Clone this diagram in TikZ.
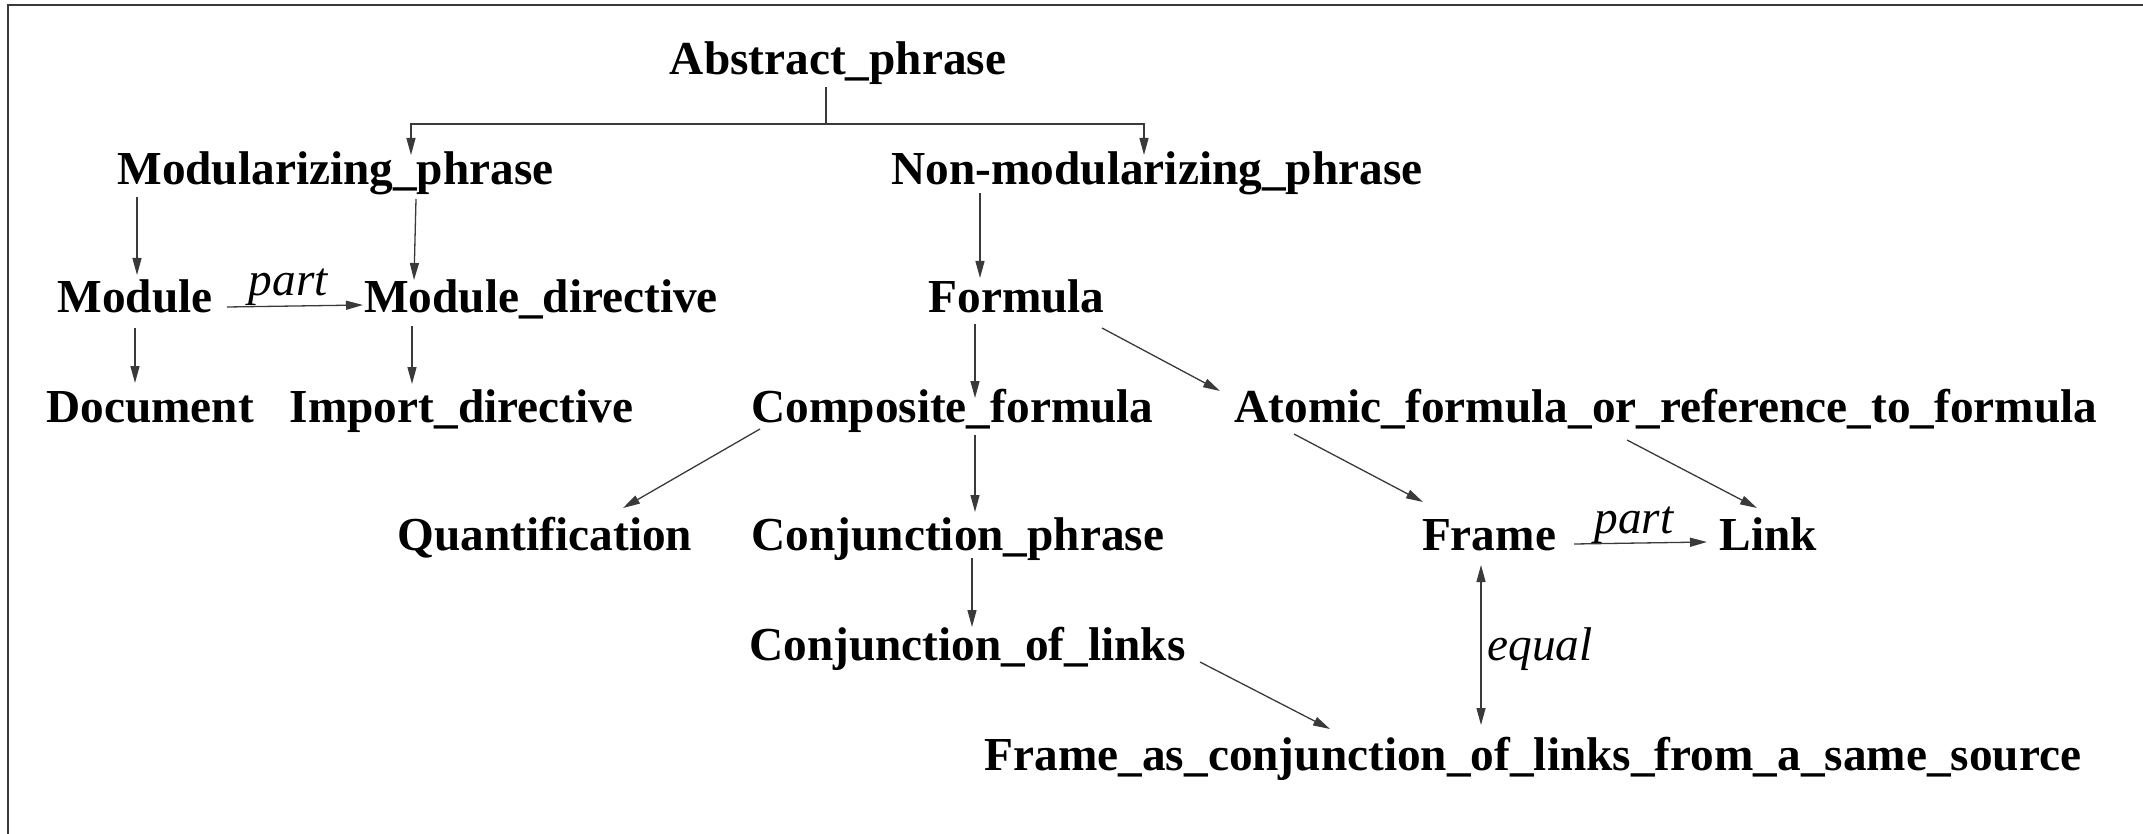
\documentclass[tikz,border=0pt]{standalone}
\usepackage{fontspec}
\setmainfont{Liberation Serif}
\usetikzlibrary{arrows.meta}
\definecolor{linegray}{HTML}{3A3A3A}
\begin{document}
\begin{tikzpicture}[x=1pt,y=-1pt,
  term/.style={anchor=base, inner sep=0pt, font=\fontsize{47.3}{56}\selectfont\bfseries},
  rel/.style={inner sep=0pt, font=\fontsize{47.3}{56}\selectfont\itshape},
  conn/.style={draw=linegray, line width=1.3pt},
  arr/.style={conn, -{Triangle[length=17pt,width=9pt]}},
  darr/.style={conn, {Triangle[length=17pt,width=9pt]}-{Triangle[length=17pt,width=9pt]}}]
\useasboundingbox (0,0) rectangle (2143,834);
\draw[draw=linegray, line width=1.8pt] (8,834) -- (8,5) -- (2143,5);

\node[term] (abs)    at (838,75)    {Abstract\_phrase};
\node[term] (modp)   at (335.5,185) {Modularizing\_phrase};
\node[term] (nonmod) at (1157,185)  {Non-modularizing\_phrase};
\node[term] (mod)    at (135,312)   {Module};
\node[term] (mdir)   at (541,312)   {Module\_directive};
\node[term] (form)   at (1016.5,312){Formula};
\node[term] (doc)    at (150,422)   {Document};
\node[term] (imp)    at (461.5,422) {Import\_directive};
\node[term] (comp)   at (952.5,422) {Composite\_formula};
\node[term] (atom)   at (1666,422)  {Atomic\_formula\_or\_reference\_to\_formula};
\node[term] (quant)  at (545,550)   {Quantification};
\node[term] (cphr)   at (958,550)   {Conjunction\_phrase};
\node[term] (frame)  at (1489,550)  {Frame};
\node[term] (link)   at (1768.5,550){Link};
\node[term] (col)    at (967.5,660) {Conjunction\_of\_links};
\node[term] (fas)    at (1533,770)  {Frame\_as\_conjunction\_of\_links\_from\_a\_same\_source};

% tree from Abstract_phrase
\draw[conn] ([shift={(-12,12)}]abs.base) -- ++(0,37) coordinate (fork);
\draw[arr] (fork) -| ([shift={(75.5,-30)}]modp.base);
\draw[arr] (fork) -| ([shift={(-13,-30)}]nonmod.base);

\draw[arr] ([shift={(-198.5,12)}]modp.base) -- ([shift={(2,-37)}]mod.base);
\draw[arr] ([shift={(80.5,14)}]modp.base) -- ([shift={(-127,-32)}]mdir.base);
\draw[arr] ([shift={(-177,8)}]nonmod.base) -- ([shift={(-36.5,-34)}]form.base);
\draw[arr] ([shift={(0,16)}]mod.base) -- ([shift={(-15,-39)}]doc.base);
\draw[arr] ([shift={(-129,14)}]mdir.base) -- ([shift={(-49.5,-38)}]imp.base);
\draw[arr] ([shift={(-41.5,12)}]form.base) -- ([shift={(22.5,-24)}]comp.base);
\draw[arr] ([shift={(85.5,16)}]form.base) -- ([shift={(-446,-31)}]atom.base);
\draw[arr] ([shift={(-192.5,7)}]comp.base) -- ([shift={(78,-42)}]quant.base);
\draw[arr] ([shift={(22.5,13)}]comp.base) -- ([shift={(17,-38)}]cphr.base);
\draw[arr] ([shift={(14,8)}]cphr.base) -- ([shift={(4.5,-33)}]col.base);
\draw[arr] ([shift={(232.5,2)}]col.base) -- ([shift={(-203,-41)}]fas.base);
\draw[arr] ([shift={(-372,12)}]atom.base) -- ([shift={(-66,-48)}]frame.base);
\draw[arr] ([shift={(-39,18)}]atom.base) -- ([shift={(-11.5,-42)}]link.base);

% labelled relations
\draw[arr] ([shift={(92,-5)}]mod.base) -- node[rel, anchor=base, pos=0.45, yshift=11pt] (lpart1) {part} ([shift={(-178,-7)}]mdir.base);
\draw[arr] ([shift={(85,-6)}]frame.base) -- node[rel, anchor=base, pos=0.45, yshift=10pt] (lpart2) {part} ([shift={(-61.5,-8)}]link.base);
\draw[darr] ([shift={(-8,15)}]frame.base) -- node[rel, anchor=base west, pos=0.5, xshift=6pt, yshift=-15pt] (lequal) {equal} ([shift={(-52,-45)}]fas.base);
\end{tikzpicture}
\end{document}
